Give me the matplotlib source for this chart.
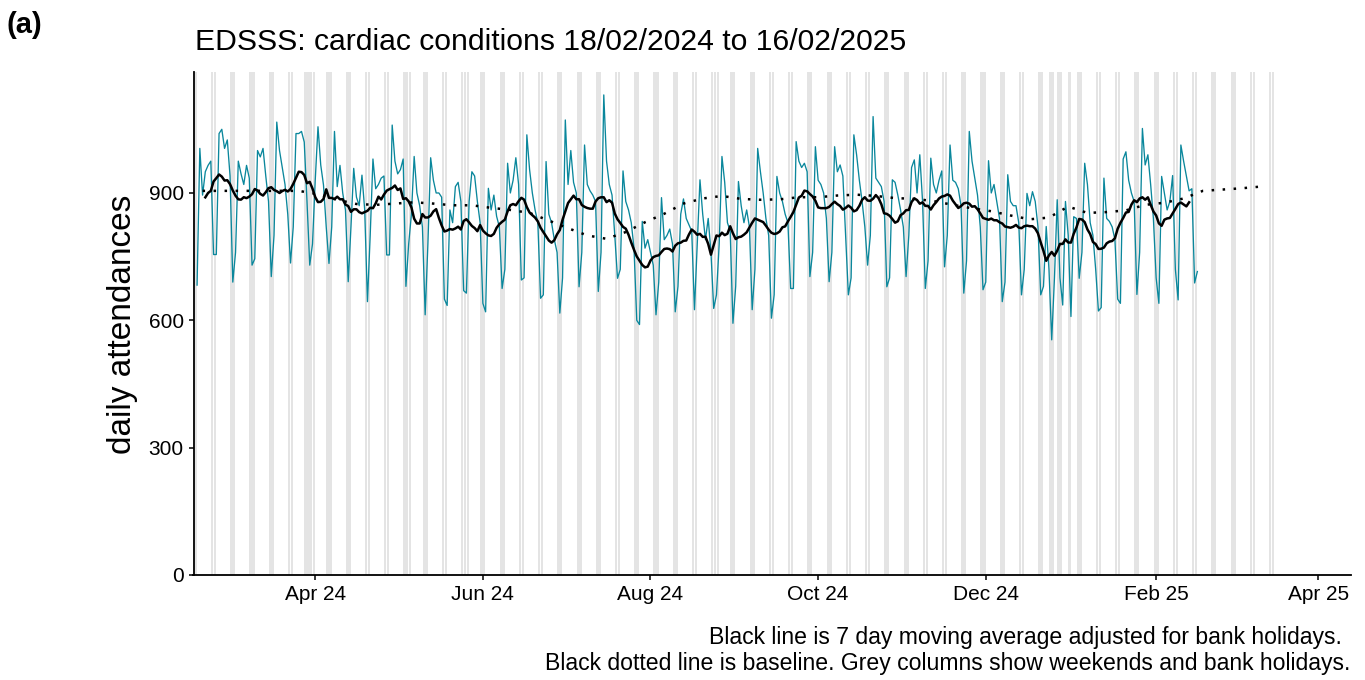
import numpy as np
import pandas as pd
import matplotlib
matplotlib.use('Agg')
import matplotlib.pyplot as plt
import matplotlib.dates as mdates

plt.rcParams['font.family'] = ['Liberation Sans', 'DejaVu Sans']

# daily attendances from 18/02/2024 (Sunday) to 16/02/2025, one row per week Sun..Sat
start_date = '2024-02-18'
attendances = [
    683, 1005, 895, 950, 965, 975, 755,
    755, 1040, 1050, 1005, 1025, 940, 690,
    760, 975, 945, 920, 965, 935, 730,
    745, 1000, 985, 1005, 940, 880, 703,
    800, 1067, 1000, 960, 920, 850, 735,
    820, 1040, 1040, 1045, 1020, 880, 730,
    780, 930, 1056, 966, 919, 820, 734,
    820, 1045, 915, 965, 900, 860, 691,
    820, 958, 890, 870, 942, 860, 644,
    800, 980, 910, 920, 935, 940, 754,
    754, 1060, 975, 945, 955, 980, 680,
    780, 850, 986, 900, 870, 820, 613,
    780, 983, 930, 900, 900, 890, 650,
    635, 860, 830, 915, 925, 880, 670,
    664, 880, 950, 940, 880, 830, 640,
    620, 911, 860, 895, 845, 820, 675,
    720, 970, 900, 930, 983, 920, 695,
    700, 1037, 955, 900, 860, 830, 652,
    660, 974, 850, 830, 790, 760, 617,
    700, 1072, 920, 1000, 925, 900, 679,
    760, 1013, 920, 905, 895, 880, 668,
    760, 1131, 975, 920, 895, 800, 699,
    720, 952, 880, 860, 830, 770, 600,
    590, 833, 770, 790, 760, 730, 613,
    690, 889, 790, 800, 815, 780, 620,
    680, 850, 886, 840, 825, 810, 625,
    780, 931, 850, 790, 840, 760, 628,
    660, 780, 986, 925, 830, 810, 593,
    680, 927, 870, 830, 860, 820, 625,
    720, 1005, 950, 900, 840, 800, 605,
    660, 939, 900, 880, 850, 830, 675,
    675, 1021, 975, 960, 970, 950, 703,
    760, 1009, 930, 920, 900, 840, 691,
    760, 1009, 950, 966, 940, 800, 660,
    700, 1037, 990, 930, 880, 820, 730,
    800, 1080, 935, 925, 915, 880, 679,
    700, 931, 925, 895, 860, 820, 703,
    800, 960, 978, 900, 990, 880, 675,
    740, 982, 920, 900, 930, 952, 726,
    800, 1013, 930, 925, 910, 870, 664,
    740, 1045, 975, 935, 895, 820, 672,
    690, 976, 900, 920, 880, 840, 644,
    690, 943, 880, 870, 870, 830, 660,
    720, 899, 870, 903, 880, 820, 660,
    680, 821, 720, 554, 700, 884, 700,
    636, 880, 800, 609, 844, 840, 699,
    760, 970, 920, 830, 800, 720, 622,
    630, 935, 840, 833, 820, 790, 650,
    640, 980, 997, 930, 900, 880, 661,
    760, 1052, 966, 990, 920, 840, 700,
    640, 939, 900, 860, 880, 941, 720,
    648, 1013, 975, 940, 905, 910, 688,
    715,
]

bank_holidays = ['2024-03-29', '2024-04-01', '2024-05-06', '2024-05-27',
                 '2024-08-26', '2024-12-25', '2024-12-26', '2025-01-01']

# baseline, one value per week starting 20/02/2024
baseline_start = '2024-02-20'
baseline = [905, 905, 905, 905, 905, 905, 897, 884, 874, 872, 875, 878, 875, 871,
            871, 865, 860, 853, 835, 817, 800, 792, 808, 831, 851, 875, 887, 893,
            886, 884, 885, 890, 890, 894, 896, 893, 888, 886, 881, 872, 864, 857,
            847, 838, 842, 868, 853, 855, 859, 872, 877, 887, 905, 908, 911, 915]

grey_from, grey_to = '2024-02-17', '2025-03-16'
y_ticks = [0, 300, 600, 900]
x_ticks = ['2024-04-01', '2024-06-01', '2024-08-01', '2024-10-01',
           '2024-12-01', '2025-02-01', '2025-04-01']

teal = '#0a879c'
y_top = 1185

dates = pd.date_range(start_date, periods=len(attendances))
s = pd.Series(attendances, index=dates, dtype=float)
bh = pd.to_datetime(bank_holidays)

# 7 day moving average, bank holidays left out
full = s.rolling(7, center=True).mean().notna()
adj = s.where(~s.index.isin(bh))
ma = adj.rolling(7, center=True, min_periods=5).mean().where(full)

base_dates = pd.date_range(baseline_start, periods=len(baseline), freq='7D')

grey_days = pd.date_range(grey_from, grey_to)
grey_days = grey_days[(grey_days.dayofweek >= 5) | grey_days.isin(bh)]

fig = plt.figure(figsize=(13.65, 6.8), dpi=100)
ax = fig.add_axes([193.5 / 1365, 1 - 575 / 680, (1350.7 - 193.5) / 1365, (575 - 72) / 680])

ax.bar(mdates.date2num(grey_days) - 0.5, y_top, width=0.85, bottom=0,
       color='#e4e4e4', zorder=0, linewidth=0)
ax.plot(mdates.date2num(dates), s.values, color=teal, lw=0.95, zorder=2)
ax.plot(mdates.date2num(dates), ma.values, color='black', lw=1.8, zorder=3)
ax.plot(mdates.date2num(base_dates), baseline, color='black', lw=1.8,
        linestyle=(0, (1, 3.4)), zorder=3)

x0 = mdates.date2num(pd.Timestamp(start_date)) - 1.3
ax.set_xlim(x0, x0 + 421.1)
ax.set_ylim(0, y_top)
ax.set_yticks(y_ticks)
ax.set_xticks(mdates.date2num(pd.to_datetime(x_ticks)))
ax.xaxis.set_major_formatter(mdates.DateFormatter('%b %y'))

for side in ['top', 'right']:
    ax.spines[side].set_visible(False)
for side in ['left', 'bottom']:
    ax.spines[side].set_linewidth(1.3)
ax.tick_params(axis='both', direction='out', length=3.6, width=1.1,
               labelsize=15, colors='black', pad=3.5)

fig.text(195 / 1365, 1 - 49.5 / 680, 'EDSSS: cardiac conditions 18/02/2024 to 16/02/2025',
         fontsize=21.7, ha='left', va='baseline')
fig.text(7 / 1365, 1 - 33 / 680, '(a)', fontsize=21, fontweight='bold',
         ha='left', va='baseline')
fig.text(122 / 1365, 1 - 324 / 680, 'daily attendances', fontsize=24,
         rotation=90, ha='center', va='center')
fig.text(1342 / 1365, 1 - 644 / 680,
         'Black line is 7 day moving average adjusted for bank holidays.',
         fontsize=16.6, ha='right', va='baseline')
fig.text(1350 / 1365, 1 - 670 / 680,
         'Black dotted line is baseline. Grey columns show weekends and bank holidays.',
         fontsize=16.6, ha='right', va='baseline')

fig.savefig('out.png', dpi=100)
